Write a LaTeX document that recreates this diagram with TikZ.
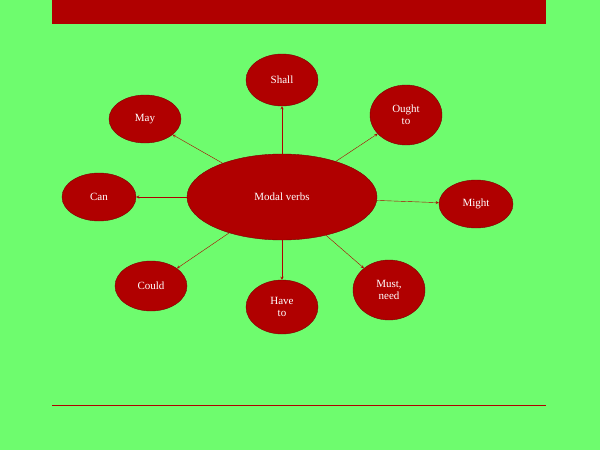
\documentclass[tikz,border=0pt]{standalone}
\usepackage{fontspec}
\setmainfont{Liberation Serif}
\usetikzlibrary{shapes.geometric}
\definecolor{bg}{HTML}{6EFC6E}
\definecolor{dred}{HTML}{B00000}
\tikzset{bubble/.style={ellipse,fill=dred,draw=dred!70!black,text=white,font=\fontsize{11}{12}\selectfont,align=center,inner sep=0pt},
arr/.style={-stealth,draw=dred,thin}}
\begin{document}
\begin{tikzpicture}[x=1pt,y=-1pt]
\fill[bg] (0,0) rectangle (600,450);
\useasboundingbox (0,0) rectangle (600,450);
\fill[dred] (52,0) rectangle (546,24);
\draw[dred,thick] (52,405) -- (546,405);
\node[bubble,minimum width=190,minimum height=86] (c) at (282,197) {Modal verbs};
\node[bubble,minimum width=72,minimum height=52] (shall) at (282,80) {Shall};
\node[bubble,minimum width=72,minimum height=60] (ought) at (406,115) {Ought\\to};
\node[bubble,minimum width=72,minimum height=48] (may) at (145,119) {May};
\node[bubble,minimum width=74,minimum height=48] (can) at (99,197) {Can};
\node[bubble,minimum width=74,minimum height=48] (might) at (476,204) {Might};
\node[bubble,minimum width=72,minimum height=50] (could) at (151,286) {Could};
\node[bubble,minimum width=72,minimum height=54] (have) at (282,307) {Have\\to};
\node[bubble,minimum width=72,minimum height=60] (must) at (389,290) {Must,\\need};
\foreach \n in {shall,ought,may,can,might,could,have,must}
  \draw[arr] (c) -- (\n);
\end{tikzpicture}
\end{document}
